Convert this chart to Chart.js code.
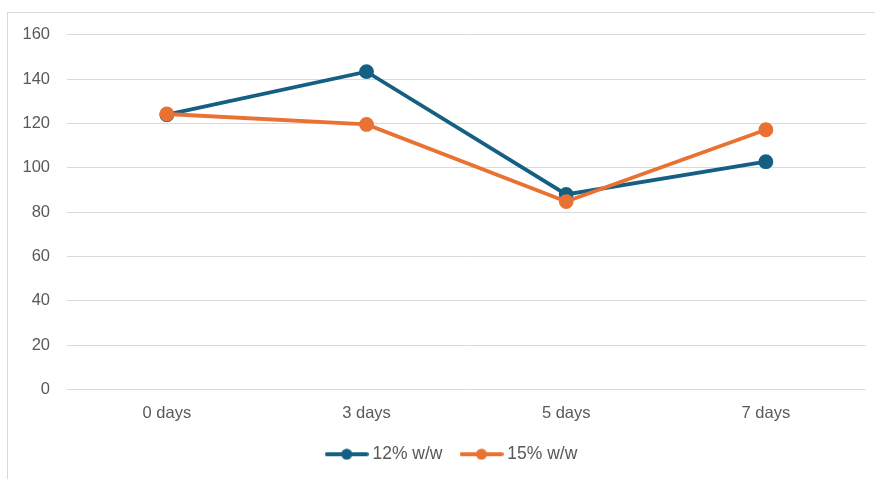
<!DOCTYPE html>
<html>
<head>
<meta charset="utf-8">
<script src="https://cdn.jsdelivr.net/npm/chart.js@4.4.1/dist/chart.umd.min.js"></script>
<style>
    html, body { margin: 0; padding: 0; background: #fff; }
    #frame {
        position: absolute; left: 7px; top: 12px; right: 0; bottom: 0;
        border-left: 1px solid #d9d9d9; border-top: 1px solid #d9d9d9;
    }
    #wrap { position: absolute; left: 0; top: -5px; width: 867px; height: 471px; }
</style>
</head>
<body>
<div id="frame"><div id="wrap"><canvas id="chart"></canvas></div></div>
<script>
// --- Data ---
const categories = ['0 days', '3 days', '5 days', '7 days'];
const series12 = [124, 143.4, 88, 102.8];
const series15 = [124.3, 119.6, 84.8, 117.2];
const yTicks = [0, 20, 40, 60, 80, 100, 120, 140, 160];

const BLUE = '#156082';
const ORANGE = '#E97132';

// legend marker: line with a dot in the middle
function legendMarker(color) {
    const c = document.createElement('canvas');
    c.width = 44; c.height = 12;
    const g = c.getContext('2d');
    g.strokeStyle = color; g.lineWidth = 4; g.lineCap = 'round';
    g.beginPath(); g.moveTo(2, 6); g.lineTo(42, 6); g.stroke();
    g.fillStyle = color;
    g.beginPath(); g.arc(22, 6, 5.5, 0, Math.PI * 2); g.fill();
    return c;
}

// nudge the legend to the right, like the original
const legendShift = {
    id: 'legendShift',
    afterLayout(chart) {
        chart.legend.left += 16;
        chart.legend.right += 16;
    }
};

Chart.defaults.font.family = "'Liberation Sans', Arial, sans-serif";
Chart.defaults.font.size = 16.5;
Chart.defaults.color = '#595959';

new Chart(document.getElementById('chart'), {
    type: 'line',
    data: {
        labels: categories,
        datasets: [
            // orange drawn on top, like the original
            { label: '12% w/w', data: series12, order: 2, borderColor: BLUE, backgroundColor: BLUE, borderWidth: 3.8, pointRadius: 5.5, pointHoverRadius: 5.5, tension: 0 },
            { label: '15% w/w', data: series15, order: 1, borderColor: ORANGE, backgroundColor: ORANGE, borderWidth: 3.8, pointRadius: 5.5, pointHoverRadius: 5.5, tension: 0 }
        ]
    },
    plugins: [legendShift],
    options: {
        responsive: true, maintainAspectRatio: false, animation: false,
        layout: { padding: { top: 13, right: 8, left: 0, bottom: 6 } },
        plugins: {
            tooltip: { enabled: false },
            legend: {
                position: 'bottom',
                labels: {
                    usePointStyle: true, pointStyleWidth: 34, padding: 22,
                    font: { size: 17.5 },
                    generateLabels: chart => chart.data.datasets.map((ds, i) => ({
                        text: ds.label, fillStyle: ds.borderColor, strokeStyle: ds.borderColor,
                        lineWidth: 0, pointStyle: legendMarker(ds.borderColor), datasetIndex: i, fontColor: '#595959'
                    }))
                }
            }
        },
        scales: {
            x: {
                offset: true,
                grid: { display: false, drawTicks: false },
                border: { display: false },
                ticks: { padding: 14 },
                afterFit: s => { s.height = 34; }
            },
            y: {
                min: 0, max: 160,
                afterBuildTicks: s => { s.ticks = yTicks.map(v => ({ value: v })); },
                grid: { color: '#d9d9d9', lineWidth: 1, drawTicks: false },
                border: { display: false },
                ticks: { padding: 17 },
                afterFit: s => { s.width = 59; }
            }
        }
    }
});
</script>
</body>
</html>
